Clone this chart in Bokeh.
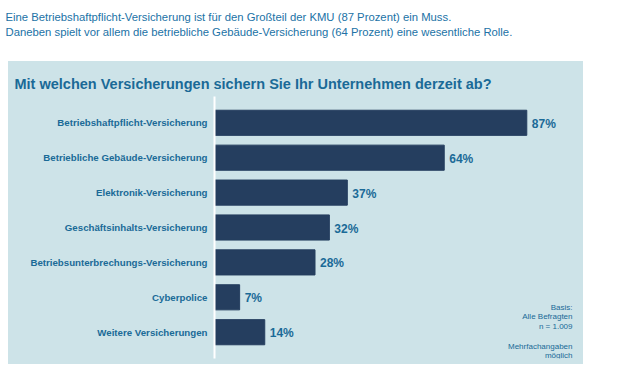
from bokeh.plotting import figure
from bokeh.models import FactorRange, Range1d, Label, ColumnDataSource, Spacer
from bokeh.layouts import column, row
from bokeh.core.properties import value
from bokeh.embed import file_html
from bokeh.resources import INLINE

# ---- data ----
categories = [
    "Betriebshaftpflicht-Versicherung",
    "Betriebliche Gebäude-Versicherung",
    "Elektronik-Versicherung",
    "Geschäftsinhalts-Versicherung",
    "Betriebsunterbrechungs-Versicherung",
    "Cyberpolice",
    "Weitere Versicherungen",
]
shares = [87, 64, 37, 32, 28, 7, 14]
value_labels = [f"{v}%" for v in shares]

header_lines = [
    "Eine Betriebshaftpflicht-Versicherung ist für den Großteil der KMU (87 Prozent) ein Muss.",
    "Daneben spielt vor allem die betriebliche Gebäude-Versicherung (64 Prozent) eine wesentliche Rolle.",
]
title_text = "Mit welchen Versicherungen sichern Sie Ihr Unternehmen derzeit ab?"
note_lines = ["Basis:", "Alle Befragten", "n = 1.009", "", "Mehrfachangaben", "möglich"]

# ---- styles ----
FONT = "Liberation Sans"
TEXT_BLUE = "#1a6a97"
HEADER_BLUE = "#2172a6"
PANEL = "#cde3e8"
BAR = "#253e5f"

# ---- header (white strip above the panel) ----
HW, HH = 600, 61
head = figure(width=HW, height=HH, output_backend="svg", toolbar_location=None,
              x_range=Range1d(0, HW), y_range=Range1d(HH, 0),
              x_axis_location=None, y_axis_location=None,
              min_border=0, background_fill_color="white", border_fill_color="white",
              outline_line_color=None)
head.grid.visible = False
for i, t in enumerate(header_lines):
    head.add_layout(Label(x=5, y=16.7 + 15 * i, x_units="canvas", y_units="canvas", text=t,
                          text_font=FONT, text_font_size="11.3px", text_color=HEADER_BLUE,
                          text_baseline="alphabetic", text_align="left"))

# ---- main chart (the panel) ----
MW, MH = 575, 364 - HH
p = figure(
    width=MW, height=MH,
    output_backend="svg", toolbar_location=None,
    y_range=FactorRange(factors=list(reversed(categories)),
                        range_padding=0.0724, range_padding_units="percent"),
    x_range=Range1d(0, 102.8),
    x_axis_location=None,
    min_border_left=206, min_border_right=0,
    min_border_top=96 - HH, min_border_bottom=6,
    background_fill_color=None, border_fill_color=None,
    outline_line_color=None,
)
p.styles = {"background-color": PANEL}
p.grid.visible = False
p.title.text = title_text
p.title.align = "left"
p.title.offset = -200
p.title.text_font = FONT
p.title.text_font_size = "14.5px"
p.title.text_font_style = "bold"
p.title.text_color = TEXT_BLUE

src = ColumnDataSource(dict(cat=categories, val=shares, lab=value_labels))
p.hbar(y="cat", left=0, right="val", height=0.72, source=src,
       fill_color=BAR, line_color=BAR)
p.text(x="val", y="cat", text="lab", source=src, x_offset=5, y_offset=1,
       text_align="left", text_baseline="middle",
       text_font=value(FONT), text_font_style="bold", text_font_size="12px",
       text_color=TEXT_BLUE)

ax = p.yaxis[0]
ax.axis_line_color = "white"
ax.axis_line_width = 2
ax.major_tick_line_color = None
ax.minor_tick_line_color = None
ax.major_tick_in = 0
ax.major_tick_out = 0
ax.major_label_standoff = 7
ax.major_label_text_font = FONT
ax.major_label_text_font_style = "bold"
ax.major_label_text_font_size = "9.7px"
ax.major_label_text_color = TEXT_BLUE

for i, t in enumerate(note_lines):
    if t:
        p.add_layout(Label(x=564, y=306.7 - HH + 9.7 * i, x_units="canvas", y_units="canvas",
                           text=t, text_font=FONT, text_font_size="8px",
                           text_color=TEXT_BLUE, text_baseline="middle",
                           text_align="right"))

layout = column(head, row(Spacer(width=8, height=MH), p))
open("out.html", "w").write(file_html(layout, INLINE))
